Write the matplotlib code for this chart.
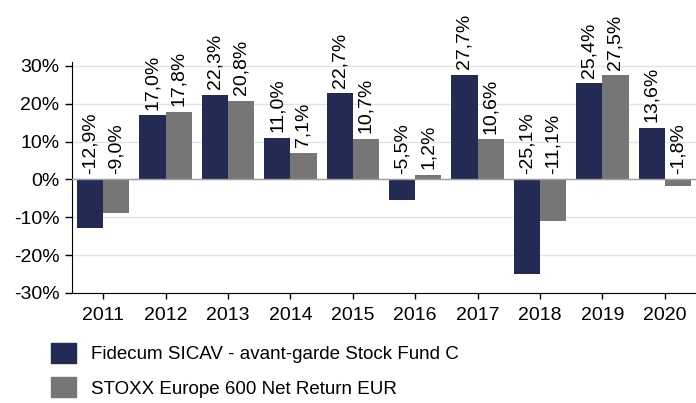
import matplotlib.pyplot as plt
from matplotlib.patches import Patch
import numpy as np

plt.rcParams['font.family'] = ['Liberation Sans', 'DejaVu Sans']

years = ['2011', '2012', '2013', '2014', '2015', '2016', '2017', '2018', '2019', '2020']
fund = [-12.9, 17.0, 22.3, 11.0, 22.7, -5.5, 27.7, -25.1, 25.4, 13.6]
index = [-9.0, 17.8, 20.8, 7.1, 10.7, 1.2, 10.6, -11.1, 27.5, -1.8]
names = ['Fidecum SICAV - avant-garde Stock Fund C', 'STOXX Europe 600 Net Return EUR']
colors = ['#232B55', '#767676']

fig = plt.figure(figsize=(6.96, 4.03), dpi=100)
ax = fig.add_axes([0.1034, 0.273, 0.8966, 0.573])

x = np.arange(len(years))
w = 0.42
for i, (vals, c) in enumerate(zip([fund, index], colors)):
    pos = x + (i - 0.5) * w
    ax.bar(pos, vals, w, color=c, zorder=3)
    for p, v in zip(pos, vals):
        ax.annotate(('%.1f%%' % v).replace('.', ','), (p, max(v, 0)),
                    xytext=(0, 4), textcoords='offset points',
                    rotation=90, ha='center', va='bottom', fontsize=14,
                    annotation_clip=False)

ax.set_xlim(-0.5, len(years) - 0.5)
ax.set_ylim(-30, 31)
ax.set_yticks(range(-30, 31, 10))
ax.set_yticklabels(['%d%%' % t for t in range(-30, 31, 10)], fontsize=14)
ax.set_xticks(x)
ax.set_xticklabels(years, fontsize=14)
ax.grid(axis='y', color='#e3e3e3', linewidth=1, zorder=0)
ax.axhline(0, color='#a0a0a0', linewidth=1, zorder=4)
for s in ['top', 'right']:
    ax.spines[s].set_visible(False)
ax.spines['left'].set_color('black')
ax.spines['bottom'].set_color('black')
ax.tick_params(axis='y', length=5, width=1, pad=4, colors='black')
ax.tick_params(axis='x', length=4, width=1, pad=6, colors='black')

handles = [Patch(color=c) for c in colors]
fig.legend(handles, names, loc='upper left', bbox_to_anchor=(0.062, 0.167),
           frameon=False, fontsize=13.5, handlelength=1.33, handleheight=1.25,
           labelspacing=0.75, handletextpad=0.8, borderaxespad=0)

fig.savefig('out.png', dpi=100)
